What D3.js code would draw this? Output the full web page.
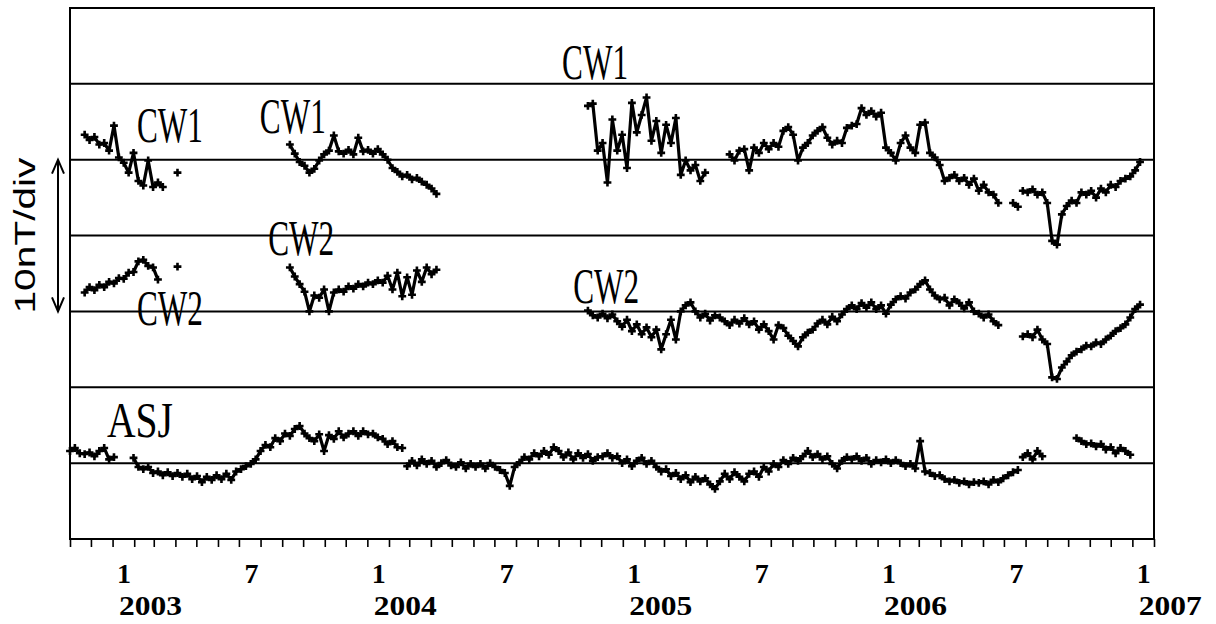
<!DOCTYPE html>
<html>
<head>
<meta charset="utf-8">
<script src="https://cdn.jsdelivr.net/npm/d3@7"></script>
<style>
  body { margin: 0; background: #fff; }
  svg { display: block; }
</style>
</head>
<body>
<div id="chart"></div>
<script>
// weekly samples (nT), each trace relative to its own zero line
const stepDays = 7;

const cw1Starts = ["2002-11-22", "2003-04-04", "2003-09-12", "2004-11-12", "2005-06-03", "2006-07-14", "2006-07-28"];
const cw1Values = [
  [3.3, 2.6, 3.0, 2.0, 2.2, 1.2, 4.5, 0.3, -0.4, -1.7, 0.9, -2.8, -3.4, -0.1, -3.6, -3.0, -3.6],
  [-1.7],
  [2.0, 0.8, -0.3, -0.8, -1.7, -1.2, -0.1, 0.7, 1.2, 3.2, 1.1, 0.8, 1.3, 0.7, 2.9, 1.1, 1.3, 0.8, 1.4, 0.7,
   0, -1.1, -1.6, -2.2, -2.0, -2.6, -2.4, -2.9, -3.3, -3.8, -4.5],
  [7.1, 7.4, 1.2, 2.2, -3.0, 5.3, 1.2, 3.3, -1.1, 7.5, 3.6, 5.9, 8.2, 2.5, 5.1, 0.9, 4.6, 2.2, 5.5, -2.0,
   -0.1, -1.4, -0.7, -2.8, -1.7],
  [0.7, -0.1, 1.2, 1.4, -1.4, 1.6, 0.9, 2.2, 1.4, 2.2, 1.7, 3.8, 4.3, 3.3, -0.1, 1.6, 2.2, 3.2, 3.8, 4.3,
   2.9, 2.0, 2.5, 2.2, 4.2, 4.5, 4.7, 6.8, 5.9, 6.4, 5.7, 6.2, 1.6, 0.9, -0.1, 2.2, 3.2, 1.6, 0.9, 4.6,
   4.9, 0.9, 0.3, -0.7, -2.8, -2.4, -2.0, -2.8, -2.4, -3.3, -2.5, -4.1, -3.3, -4.3, -4.6, -5.7],
  [-5.7, -6.2],
  [-4.1, -4.3, -3.9, -4.6, -4.3, -5.7, -10.7, -11.2, -7.2, -6.1, -5.4, -5.7, -4.3, -4.6, -4.1, -5.0, -3.8, -4.3, -3.3, -3.6,
   -2.8, -2.5, -2.2, -1.4, -0.3]
];

const cw2Starts = ["2002-11-22", "2003-04-04", "2003-09-12", "2004-11-12", "2006-07-28"];
const cw2Values = [
  [2.5, 3.2, 2.8, 3.5, 3.2, 3.9, 3.7, 4.4, 4.3, 5.1, 5.2, 6.6, 6.8, 6.0, 5.8, 4.2],
  [5.9],
  [5.8, 4.6, 3.6, 2.6, 0, 2.1, 1.8, 2.9, 0, 2.5, 2.9, 2.6, 3.3, 3.0, 3.6, 3.3, 3.8, 3.6, 4.1, 3.8,
   4.7, 2.9, 5.1, 2.0, 4.5, 2.2, 5.4, 3.9, 5.8, 4.9, 5.5],
  [0.1, -0.5, -0.8, -0.3, -0.9, -0.4, -1.3, -2.0, -1.1, -2.6,
   -1.7, -3.0, -2.1, -3.4, -2.4, -5.0, -3.0, -1.1, -3.7, 0,
   0.8, 1.2, 0, -0.8, -0.3, -1.2, -0.5, -0.8, -1.3, -1.8,
   -1.1, -1.6, -0.9, -1.7, -1.3, -2.4, -1.7, -2.6, -3.7, -1.8,
   -2.2, -3.2, -3.9, -4.6, -3.4, -2.8, -2.4, -1.6, -1.1, -1.7,
   -0.7, -1.3, -0.4, 0.3, 0.8, 0.3, 1.1, 0.5, 1.2, 0.3,
   0.8, -0.3, 0.9, 1.6, 2.0, 1.7, 2.5, 2.9, 3.6, 4.1,
   2.9, 2.1, 1.6, 1.8, 0.8, 1.6, 1.1, 0.4, 1.2, 0,
   -0.3, -0.8, -0.4, -1.3, -1.8],
  [-3.3, -3.0, -3.4, -2.4, -3.7, -4.3, -8.7, -8.9, -7.4, -6.6, -5.8, -5.3, -5.0, -4.5, -4.6, -4.1, -4.3, -3.7, -3.2, -2.6,
   -2.2, -1.7, -0.8, 0.3, 0.9]
];

const asjStarts = ["2002-11-01", "2003-01-31", "2004-02-27", "2006-07-28", "2006-10-13"];
const asjValues = [
  [1.6, 2.0, 1.3, 1.2, 1.4, 0.9, 1.6, 2.0, 0.5, 0.8],
  [0.7, -0.5, -0.8, -0.5, -1.3, -1.1, -1.6, -1.2, -1.7, -1.3,
   -1.8, -1.4, -2.1, -1.7, -2.5, -1.8, -2.2, -1.6, -2.1, -1.4,
   -2.2, -1.1, -0.8, -0.4, -0.1, 0.5, 1.6, 2.4, 2.1, 3.3,
   2.9, 3.9, 3.6, 4.5, 4.9, 3.9, 3.3, 2.9, 3.8, 1.6,
   3.7, 3.2, 4.2, 3.4, 3.9, 4.2, 3.6, 4.2, 3.8, 3.9,
   3.4, 3.2, 2.5, 2.9, 2.1, 2.0],
  [-0.4, 0.3, -0.3, 0.5, -0.1, 0.3, -0.5, 0, 0.4, -0.3,
   -0.5, 0.1, -0.7, -0.1, -0.5, -0.1, -0.7, 0, -0.5, -0.9,
   -1.3, -3.0, -0.5, 0.1, 0.8, 0.5, 1.3, 0.9, 1.6, 1.1,
   2.1, 1.6, 0.8, 1.4, 0.5, 1.3, 0.7, 1.2, 0.3, 0.8,
   0.9, 1.3, 0.7, 0.9, 0, 0.5, -0.4, 0.3, 0.7, -0.1,
   0.3, -0.5, -1.1, -0.8, -1.7, -1.3, -2.1, -1.6, -2.5, -1.8,
   -2.4, -2.0, -2.8, -3.4, -2.4, -1.4, -2.1, -1.2, -1.8, -2.4,
   -1.4, -1.1, -1.8, -0.5, -1.1, -0.1, -0.5, 0.4, -0.1, 0.7,
   0.3, 0.9, 1.6, 0.8, 1.2, 0.5, 0.9, -0.1, -0.7, 0.3,
   0.8, 0.5, 0.9, 0.3, 0.7, -0.1, 0.4, 0.1, 0.5, 0,
   0.4, 0, -0.4, -0.1, -0.7, 2.9, -1.1, -1.3, -1.7, -1.6,
   -2.1, -2.4, -2.2, -2.6, -2.4, -2.8, -2.5, -2.6, -2.4, -2.8,
   -2.2, -2.5, -2.0, -1.6, -1.2, -0.9],
  [0.8, 1.3, 0.5, 1.6, 0.9],
  [3.3, 2.9, 2.5, 2.6, 2.2, 2.5, 1.8, 2.1, 1.3, 2.0, 1.6, 1.1]
];

// each trace is shifted onto its own grid line (10 nT per division)
const baselines = [50, 30, 10];
const monthLabels = ["1", "7"];
const yearLabels = ["2003", "2004", "2005", "2006", "2007"];

const W = 1216, H = 624;
const plotL = 70, plotR = 1154, plotT = 8, plotB = 539;

const parse = d3.timeParse("%Y-%m-%d");

const svg = d3.select("#chart").append("svg")
    .attr("width", W)
    .attr("height", H);

const x = d3.scaleTime()
    .domain([new Date(2002, 10, 1), new Date(2007, 1, 1)])
    .range([plotL, plotR]);
const y = d3.scaleLinear()
    .domain([0, 70])
    .range([plotB, plotT]);

// grid lines
svg.append("g")
    .selectAll("line")
    .data(d3.range(10, 70, 10))
    .join("line")
    .attr("x1", plotL).attr("x2", plotR)
    .attr("y1", d => y(d)).attr("y2", d => y(d))
    .attr("stroke", "#000")
    .attr("stroke-width", 2);

// month ticks below the frame
const axis = svg.append("g")
    .attr("transform", `translate(0,${plotB})`)
    .call(d3.axisBottom(x).ticks(d3.timeMonth.every(1)).tickSize(8).tickFormat(""));
axis.select(".domain").remove();
axis.selectAll(".tick line").attr("stroke", "#000").attr("stroke-width", 1.6);

svg.append("rect")
    .attr("x", plotL).attr("y", plotT)
    .attr("width", plotR - plotL).attr("height", plotB - plotT)
    .attr("fill", "none")
    .attr("stroke", "#000")
    .attr("stroke-width", 2);

// month / year labels
const lab = svg.append("g")
    .attr("font-family", "'Liberation Serif', serif")
    .attr("font-weight", "bold")
    .attr("fill", "#000");

yearLabels.forEach((yr, k) => {
    const jan = new Date(+yr, 0, 16);
    lab.append("text")
        .attr("x", x(jan) + 1)
        .attr("y", 583)
        .attr("text-anchor", "middle")
        .attr("font-size", 28)
        .text(monthLabels[0]);
    lab.append("text")
        .attr("x", x(jan) - 4)
        .attr("y", 615)
        .attr("font-size", 28)
        .attr("textLength", 63)
        .attr("lengthAdjust", "spacingAndGlyphs")
        .text(yr);
    if (k < yearLabels.length - 1) {
        lab.append("text")
            .attr("x", x(new Date(+yr, 6, 16)) + 2)
            .attr("y", 583)
            .attr("text-anchor", "middle")
            .attr("font-size", 28)
            .text(monthLabels[1]);
    }
});

// build traces
function toPoints(starts, values, base) {
    return starts.map((s, k) => {
        const t0 = parse(s);
        return values[k].map((v, i) => ({ date: d3.timeDay.offset(t0, i * stepDays), val: v + base }));
    });
}

const traces = [
    toPoints(cw1Starts, cw1Values, baselines[0]),
    toPoints(cw2Starts, cw2Values, baselines[1]),
    toPoints(asjStarts, asjValues, baselines[2])
];

const line = d3.line()
    .x(d => x(d.date))
    .y(d => y(d.val));

const cross = d3.symbol().type(d3.symbolCross).size(34);

traces.forEach(segs => {
    const g = svg.append("g");
    g.selectAll("path.seg")
        .data(segs.filter(s => s.length > 1))
        .join("path")
        .attr("class", "seg")
        .attr("d", line)
        .attr("fill", "none")
        .attr("stroke", "#000")
        .attr("stroke-width", 3.2)
        .attr("stroke-linejoin", "round");
    g.selectAll("path.mk")
        .data(segs.flat())
        .join("path")
        .attr("class", "mk")
        .attr("d", cross)
        .attr("transform", d => `translate(${x(d.date)},${y(d.val)})`)
        .attr("fill", "#000");
});

// trace names
const notes = [
    { text: "CW1", date: "2004-10-06", level: 60.6 },
    { text: "CW1", date: "2003-02-05", level: 52.3 },
    { text: "CW1", date: "2003-07-31", level: 53.5 },
    { text: "CW2", date: "2003-08-12", level: 37.4 },
    { text: "CW2", date: "2003-02-05", level: 28.2 },
    { text: "CW2", date: "2004-10-22", level: 31.1 },
    { text: "ASJ", date: "2002-12-24", level: 13.4 }
];

svg.append("g")
    .selectAll("text")
    .data(notes)
    .join("text")
    .attr("x", d => x(parse(d.date)))
    .attr("y", d => y(d.level))
    .attr("font-family", "'Liberation Serif', serif")
    .attr("font-size", 50)
    .attr("textLength", 66)
    .attr("lengthAdjust", "spacingAndGlyphs")
    .attr("fill", "#000")
    .text(d => d.text);

// scale arrow and unit
const ay1 = y(50), ay2 = y(30), ax = 58;
svg.append("line")
    .attr("x1", ax).attr("x2", ax)
    .attr("y1", ay1).attr("y2", ay2)
    .attr("stroke", "#000").attr("stroke-width", 2);
svg.append("path")
    .attr("d", `M${ax - 6},${ay1 + 14} L${ax},${ay1} L${ax + 6},${ay1 + 14}`)
    .attr("fill", "none").attr("stroke", "#000").attr("stroke-width", 2);
svg.append("path")
    .attr("d", `M${ax - 6},${ay2 - 14} L${ax},${ay2} L${ax + 6},${ay2 - 14}`)
    .attr("fill", "none").attr("stroke", "#000").attr("stroke-width", 2);

svg.append("text")
    .attr("transform", `translate(35,${(ay1 + ay2) / 2}) rotate(-90)`)
    .attr("text-anchor", "middle")
    .attr("font-family", "'Liberation Sans', Arial, sans-serif")
    .attr("font-size", 29)
    .attr("textLength", 156)
    .attr("lengthAdjust", "spacingAndGlyphs")
    .attr("fill", "#000")
    .text("10nT/div");
</script>
</body>
</html>
